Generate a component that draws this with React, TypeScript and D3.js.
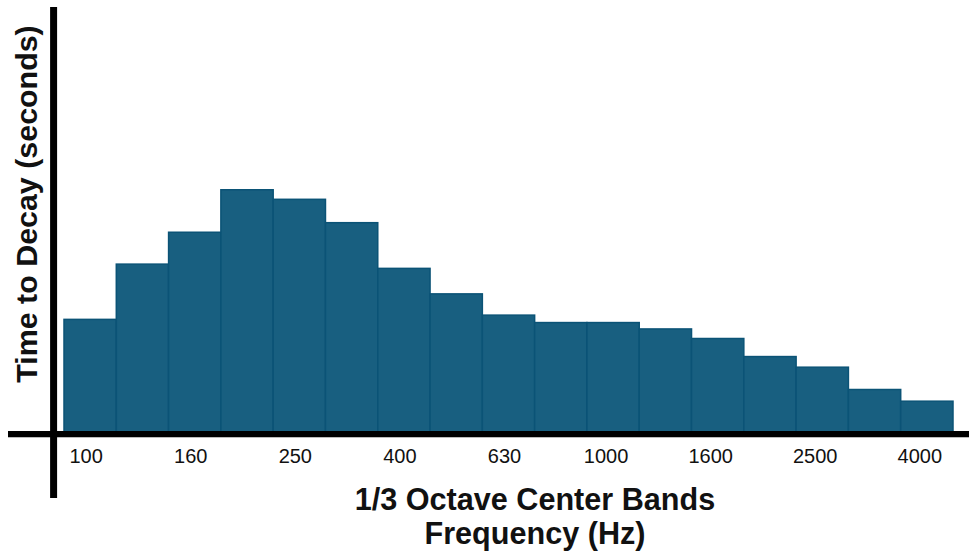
import React from "react";
import * as d3 from "d3";

const bands = ["100","125","160","200","250","315","400","500","630","800","1000","1250","1600","2000","2500","3150","4000"];
const decayTimes = [1.06,1.58,1.88,2.28,2.19,1.97,1.54,1.30,1.10,1.03,1.03,0.97,0.88,0.71,0.61,0.40,0.29];
const tickLabels = ["100","160","250","400","630","1000","1600","2500","4000"];
const xTitle1 = "1/3 Octave Center Bands";
const xTitle2 = "Frequency (Hz)";
const yTitle = "Time to Decay (seconds)";

const W = 969, H = 558;
const FONT = "'Liberation Sans', Arial, Helvetica, sans-serif";

export default function App() {
  const x = d3.scaleBand<string>().domain(bands).range([64, 953]).padding(0);
  const y = d3.scaleLinear().domain([0, 4]).range([432, 7]);
  const fill = "#185F80";
  const stroke = "#0B5376";

  return (
    <svg width={W} height={H} style={{ position: "absolute", left: 0, top: 0, background: "#fff" }}>
      {bands.map((b, i) => (
        <rect key={b}
          x={x(b)!}
          y={y(decayTimes[i])}
          width={x.bandwidth()}
          height={y(0) - y(decayTimes[i])}
          fill={fill}
          stroke={stroke}
          strokeWidth={1.5}
        />
      ))}
      <line x1={8} x2={969} y1={437.5} y2={437.5} stroke="#bbb" strokeWidth={1} />
      <line x1={8} x2={969} y1={434} y2={434} stroke="#000" strokeWidth={6} />
      <line x1={53.6} x2={53.6} y1={7} y2={498} stroke="#000" strokeWidth={7} />
      {tickLabels.map((t) => (
        <text key={t}
          x={x(t)! + x.bandwidth() / 2 + (t.length > 3 ? -7 : -4)}
          y={463}
          textAnchor="middle"
          fontFamily={FONT}
          fontSize={20}
          fill="#111"
        >{t}</text>
      ))}
      <text x={535} y={510} textAnchor="middle" fontFamily={FONT} fontWeight="bold" fontSize={30.6} fill="#111">{xTitle1}</text>
      <text x={535} y={544} textAnchor="middle" fontFamily={FONT} fontWeight="bold" fontSize={30.6} fill="#111">{xTitle2}</text>
      <text transform="translate(37,204) rotate(-90)" textAnchor="middle" fontFamily={FONT} fontWeight="bold" fontSize={30.4} fill="#111">{yTitle}</text>
    </svg>
  );
}
